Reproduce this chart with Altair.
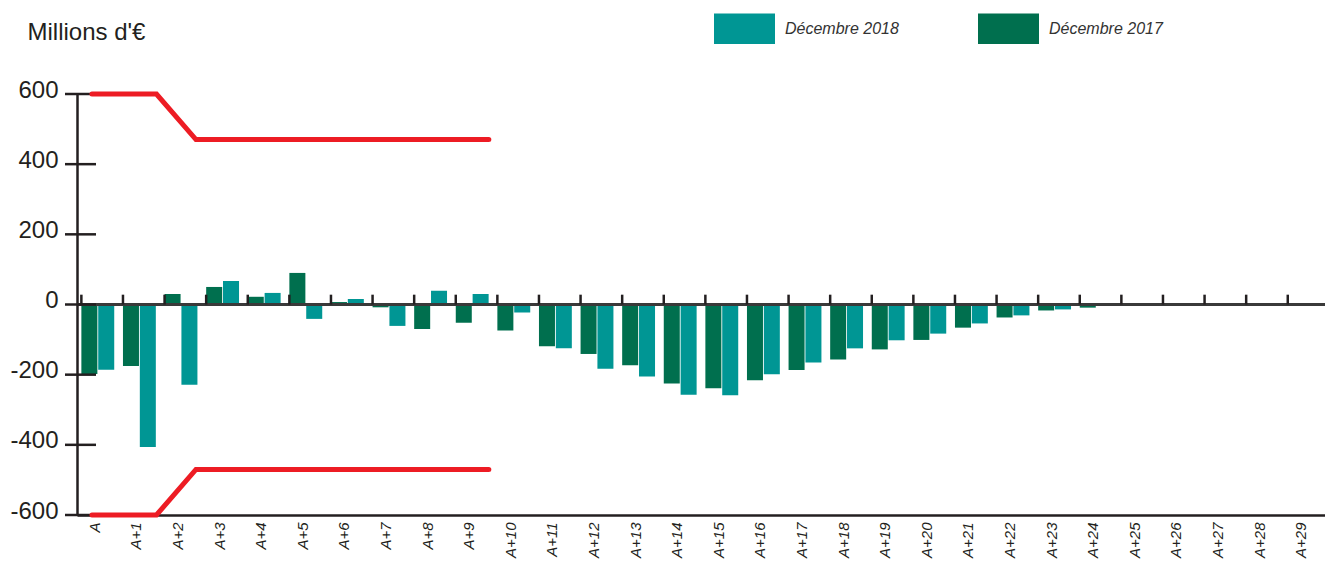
import altair as alt
import pandas as pd

cats = ["A"] + [f"A+{i}" for i in range(1, 30)]
dec2017 = [-198, -175, 30, 50, 22, 90, 7, -8, -70, -52, -74, -119, -141, -173, -225,
           -239, -216, -187, -157, -128, -101, -66, -37, -17, -9, -2, -2, -3, -2, -1]
dec2018 = [-186, -406, -229, 67, 33, -41, 16, -61, 39, 30, -23, -125, -183, -205, -257,
           -259, -199, -165, -125, -102, -83, -54, -31, -14, -2, -2, -2, -2, -2, -2]
series = ["Décembre 2018", "Décembre 2017"]
colors = ["#009694", "#006f4e"]
yticks = [-600, -400, -200, 0, 200, 400, 600]
lim_x = [0.36, 1.91, 2.86, 9.9]
lim_hi = [600, 600, 470, 470]
lim_lo = [-600, -600, -470, -470]

FONT = "Liberation Sans"
INK = "#231f20"

rows = []
for c, a, b in zip(cats, dec2017, dec2018):
    rows.append({"cat": c, "serie": "Décembre 2017", "v": a})
    rows.append({"cat": c, "serie": "Décembre 2018", "v": b})
df = pd.DataFrame(rows)
df_cats = pd.DataFrame({"cat": cats})
df_ticks = pd.DataFrame({"t": yticks})
lim_rows = []
for x, h, l in zip(lim_x, lim_hi, lim_lo):
    lim_rows.append({"x": x, "y": h, "g": "haut"})
    lim_rows.append({"x": x, "y": l, "g": "bas"})
df_lim = pd.DataFrame(lim_rows)

xscale = alt.Scale(paddingInner=0.21, paddingOuter=0.105)
yscale = alt.Scale(domain=[-600, 600], nice=False)

yaxis = alt.Axis(values=yticks, grid=False, ticks=False, labelFont=FONT,
                 labelFontSize=24, labelColor=INK, labelPadding=19, labelOffset=-4,
                 labelExpr="replace(datum.label, '−', '-')",
                 domainColor=INK, domainWidth=2.5,
                 title="Millions d'€", titleAngle=0, titleAlign="left",
                 titleBaseline="alphabetic", titleX=-50, titleY=-55,
                 titleFont=FONT, titleFontSize=24, titleFontWeight="normal",
                 titleColor=INK)

bars = alt.Chart(df).mark_bar().encode(
    x=alt.X("cat:N", sort=cats, scale=xscale, title=None,
            axis=alt.Axis(labelAngle=270, labelAlign="right", labelBaseline="middle",
                          labelFont=FONT, labelFontSize=15, labelFontStyle="italic",
                          labelColor=INK, labelPadding=7, labelOffset=-3, ticks=False,
                          grid=False, domainColor=INK, domainWidth=2.5)),
    xOffset=alt.XOffset("serie:N", sort=["Décembre 2017", "Décembre 2018"],
                        scale=alt.Scale(paddingInner=0.05)),
    y=alt.Y("v:Q", scale=yscale, axis=yaxis),
    color=alt.Color("serie:N", scale=alt.Scale(domain=series, range=colors),
                    legend=alt.Legend(orient="none", legendX=637, legendY=-96,
                                      direction="horizontal", columns=2, title=None,
                                      symbolType="M-1,-0.5H1V0.5H-1Z", symbolSize=3721,
                                      symbolStrokeWidth=0, symbolOpacity=1,
                                      labelFont=FONT, labelFontSize=16,
                                      labelFontStyle="italic", labelColor="#333333",
                                      labelOffset=10, columnPadding=79)),
)

zero = alt.Chart(df_cats).mark_rule(color="#3a3a3a", strokeWidth=2.5).encode(
    y=alt.datum(0, scale=yscale))

bticks = alt.Chart(df_cats).mark_rule(color=INK, strokeWidth=2.5).encode(
    x=alt.X("cat:N", sort=cats, scale=xscale, bandPosition=0),
    y=alt.datum(0),
    y2=alt.datum(28),
)

ytk = alt.Chart(df_ticks).mark_rule(color=INK, strokeWidth=2.5).encode(
    y=alt.Y("t:Q", scale=yscale),
    x=alt.value(-12),
    x2=alt.value(19),
)

inner = alt.layer(bars, zero, bticks, ytk)

lines = alt.Chart(df_lim).mark_line(color="#ed1c24", strokeWidth=5, strokeCap="round",
                                    strokeJoin="miter").encode(
    x=alt.X("x:Q", scale=alt.Scale(domain=[0, 30], nice=False, zero=False), axis=None),
    y=alt.Y("y:Q", scale=yscale),
    detail="g:N",
)

chart = alt.layer(inner, lines).resolve_scale(x="independent").properties(
    width=1248, height=421,
    autosize=alt.AutoSizeParams(type="none"),
    padding={"left": 69, "top": 86, "right": 0, "bottom": 46},
    view=alt.ViewBackground(strokeOpacity=0, strokeWidth=0),
).configure_view(strokeOpacity=0, strokeWidth=0).configure_axis(
    grid=False, gridOpacity=0).configure(background="white")

chart.save("out.html", embed_options={"renderer": "svg", "actions": False})
